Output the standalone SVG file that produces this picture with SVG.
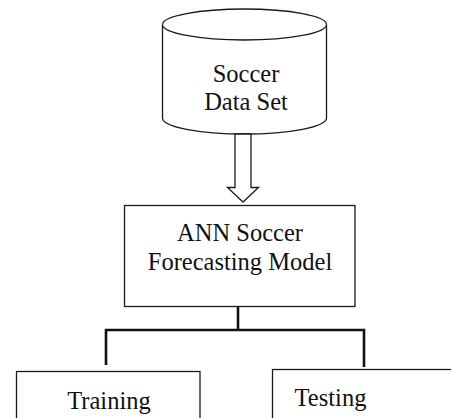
<svg xmlns="http://www.w3.org/2000/svg" width="451" height="418" viewBox="0 0 451 418">
  <style>
    .shape { fill: #ffffff; stroke: #1a1a1a; stroke-width: 1.3; }
    .label { font-family: "Liberation Serif", "Times New Roman", serif; font-size: 24.5px; fill: #111111; text-anchor: middle; }
    .link { fill: none; stroke: #111111; stroke-width: 2.6; }
  </style>
  <rect width="451" height="418" fill="#ffffff"/>

  <!-- data store -->
  <g id="dataset">
    <path class="shape" d="M162.5 24.5 V118 A82 16 0 0 0 326.5 118 V24.5 A82 15.5 0 0 0 162.5 24.5 Z"/>
    <path class="shape" fill="none" d="M162.5 24.5 A82 15.5 0 0 0 326.5 24.5"/>
    <text class="label" x="246" y="82">Soccer</text>
    <text class="label" x="246" y="110">Data Set</text>
  </g>

  <!-- model -->
  <g id="model">
    <rect class="shape" x="124.5" y="205.5" width="230.5" height="101"/>
    <text class="label" x="240" y="241">ANN Soccer</text>
    <text class="label" x="240" y="270">Forecasting Model</text>
  </g>

  <g id="training">
    <rect class="shape" x="16.5" y="371.5" width="183.5" height="70"/>
    <text class="label" x="109" y="409">Training</text>
  </g>

  <g id="testing">
    <rect class="shape" x="272.5" y="369.5" width="200" height="70"/>
    <text class="label" x="330.5" y="406">Testing</text>
  </g>

  <!-- connectors -->
  <g id="connectors">
    <polygon class="shape" points="235,134 251,134 251,187.5 258.5,187.5 243,202 227.5,187.5 235,187.5"/>
    <path class="link" d="M238 307 V330"/>
    <path class="link" d="M106 365 V330 H364 V367"/>
  </g>
</svg>
